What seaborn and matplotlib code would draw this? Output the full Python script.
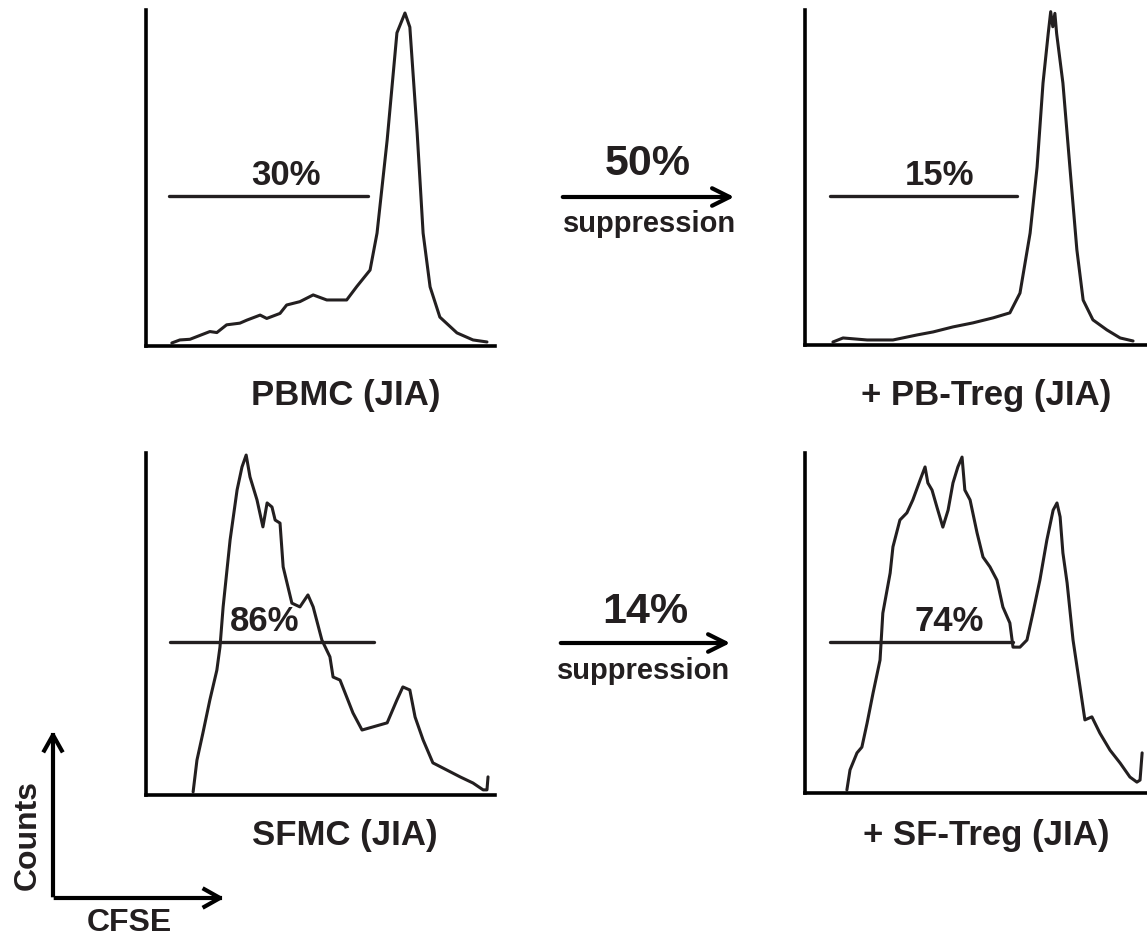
import matplotlib
matplotlib.use("Agg")
import matplotlib.pyplot as plt
import seaborn as sns
import pandas as pd

sns.set_style("white")
plt.rcParams['font.family'] = ['Liberation Sans', 'DejaVu Sans']
plt.rcParams['font.weight'] = 'bold'

INK = '#231f20'

# CFSE histograms (channel 0-1000, counts as % of max)
pbmc_x = [74, 97, 126, 183, 203, 231, 269, 289, 327, 346, 384, 403, 441, 479, 518, 575, 604, 642, 662, 691, 719,
          742, 756, 777, 794, 814, 842, 891, 937, 977]
pbmc_y = [0.9, 1.8, 2.0, 4.3, 4.0, 6.3, 6.8, 7.7, 9.2, 8.2, 9.7, 12.2, 13.2, 15.2, 13.7, 13.7, 17.7, 22.6, 33.6,
          61.3, 93.2, 99.1, 94.9, 63.4, 33.6, 17.6, 8.6, 3.9, 1.8, 1.2]

pbtreg_x = [80, 109, 178, 252, 321, 367, 424, 481, 539, 587, 616, 645, 665, 682, 697, 704, 710, 716, 721, 739, 759,
            779, 797, 825, 865, 903, 940]
pbtreg_y = [0.9, 2.1, 1.5, 1.5, 3.0, 3.9, 5.4, 6.6, 8.1, 9.6, 15.5, 33.4, 53.1, 78.2, 93.1, 99.5, 95, 99, 93,
            78.2, 53.1, 28.4, 13.4, 7.5, 4.5, 2.1, 1.2]

sfmc_x = [135, 146, 163, 183, 203, 212, 221, 241, 261, 275, 287, 298, 318, 335, 347, 361, 370, 384, 393, 418, 441, 464,
          479, 504, 527, 536, 556, 593, 619, 650, 691, 719, 736, 756, 771, 794, 822, 862, 900, 937, 966, 977, 980]
sfmc_y = [0.9, 10.2, 18.1, 27.8, 36.5, 43.3, 55.0, 74.6, 89.2, 95.9, 99.4, 93.0, 86.3, 78.4, 85.4, 84.2, 80.4, 79.5, 66.7,
          56.1, 55.0, 58.5, 55.0, 45.3, 40.4, 34.5, 33.6, 24.0, 19.0, 19.9, 21.1, 27.8, 31.6, 30.7, 22.8, 16.1, 9.4, 7.3,
          5.3, 3.5, 1.5, 1.5, 5.3]

sftreg_x = [120, 129, 149, 163, 178, 195, 215, 223, 244, 252, 272, 292, 309, 330, 344, 352, 364, 378, 395, 410, 424, 438,
            450, 458, 473, 493, 510, 530, 550, 567, 587, 596, 616, 636, 653, 673, 693, 711, 722, 731, 739, 751, 768, 788,
            802, 822, 845, 874, 903, 931, 951, 960, 966]
sftreg_y = [0.9, 6.8, 11.8, 13.5, 20.6, 29.4, 39.1, 52.9, 64.7, 72.4, 80.3, 82.4, 86.2, 92.1, 95.9, 91.2, 89.1, 84.1,
            78.2, 83.2, 91.2, 95.9, 98.8, 89.1, 86.2, 76.5, 69.4, 66.5, 62.6, 54.7, 50.0, 42.9, 42.9, 45.0, 52.9, 62.6,
            74.4, 83.2, 85.3, 81.2, 70.6, 61.8, 45.0, 31.2, 21.5, 22.4, 17.6, 12.6, 8.8, 4.7, 3.2, 3.8, 11.8]

titles = ['PBMC (JIA)', '+ PB-Treg (JIA)', 'SFMC (JIA)', '+ SF-Treg (JIA)']
gate_start = [66, 72, 69, 72]
gate_end = [636, 607, 653, 596]
gate_level = [44.6, 44.5, 44.7, 44.4]
gate_pct = [30, 15, 86, 74]
pct_x = [401, 384, 341, 413]
suppression = [50, 14]

curves = [(pbmc_x, pbmc_y), (pbtreg_x, pbtreg_y), (sfmc_x, sfmc_y), (sftreg_x, sftreg_y)]

W, H = 1147, 936
fig = plt.figure(figsize=(W / 100, H / 100), dpi=100)


def fx(px):
    return px / W


def fy(py):
    return 1 - py / H


# pixel boxes: left, right, top, bottom
boxes = [(146, 495, 10, 346), (805, 1154, 10, 345), (146, 495, 453, 795), (805, 1154, 453, 793)]
title_pos = [(346, 395), (986, 395), (345, 836), (986, 836)]

for i, (l, r, t, b) in enumerate(boxes):
    ax = fig.add_axes([fx(l), fy(b), (r - l) / W, (b - t) / H])
    df = pd.DataFrame({'CFSE': curves[i][0], 'Counts': curves[i][1]})
    sns.lineplot(data=df, x='CFSE', y='Counts', ax=ax, color=INK, lw=2.2, sort=False)
    ax.plot([gate_start[i], gate_end[i]], [gate_level[i], gate_level[i]], color=INK, lw=2.4,
            solid_capstyle='round')
    ax.text(pct_x[i], gate_level[i] + 1.2, f'{gate_pct[i]}%', ha='center', va='bottom',
            fontsize=25, fontweight='bold', color=INK)
    ax.set_xlim(0, 1000)
    ax.set_ylim(0, 100)
    ax.set_xticks([])
    ax.set_yticks([])
    ax.set_xlabel('')
    ax.set_ylabel('')
    ax.patch.set_alpha(0)
    for s in ['top', 'right']:
        ax.spines[s].set_visible(False)
    for s in ['left', 'bottom']:
        ax.spines[s].set_linewidth(2.6)
        ax.spines[s].set_color('black')
    fig.text(fx(title_pos[i][0]), fy(title_pos[i][1]), titles[i], ha='center', va='center',
             fontsize=25, fontweight='bold', color=INK)

# suppression arrows between the panels
arrows = [(560, 737, 197, 648, 164, 650, 224), (558, 733, 643, 645, 612, 644, 671)]
for k, (x0, x1, ya, tx, ty, sx, sy) in enumerate(arrows):
    fig.patches.append(matplotlib.patches.FancyArrowPatch(
        (fx(x0), fy(ya)), (fx(x1), fy(ya)), transform=fig.transFigure,
        arrowstyle='->,head_length=0.9,head_width=0.45', lw=3, color='black', mutation_scale=14))
    fig.text(fx(tx), fy(ty), f'{suppression[k]}%', ha='center', va='center',
             fontsize=31, fontweight='bold', color=INK)
    fig.text(fx(sx), fy(sy), 'suppression', ha='center', va='center',
             fontsize=21, fontweight='bold', color=INK)

# Counts / CFSE key
for end in [(53, 728), (227, 898)]:
    fig.patches.append(matplotlib.patches.FancyArrowPatch(
        (fx(53), fy(898)), (fx(end[0]), fy(end[1])), transform=fig.transFigure,
        arrowstyle='->,head_length=0.8,head_width=0.45', lw=3, color='black', mutation_scale=14,
        capstyle='projecting'))
fig.text(fx(28), fy(835), 'Counts', rotation=90, ha='center', va='center',
         fontsize=23, fontweight='bold', color=INK)
fig.text(fx(129), fy(923), 'CFSE', ha='center', va='center',
         fontsize=23, fontweight='bold', color=INK)

fig.savefig('out.png', dpi=100)
